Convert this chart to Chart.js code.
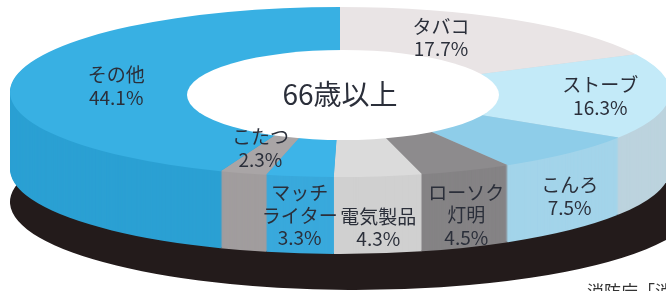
<!DOCTYPE html>
<html lang="ja">
<head>
<meta charset="utf-8">
<script src="https://cdn.jsdelivr.net/npm/chart.js@4.4.1/dist/chart.umd.min.js"></script>
<style>
html, body { margin: 0; padding: 0; background: #fff; overflow: hidden; }
canvas { display: block; }
</style>
</head>
<body>
<canvas id="fireChart" width="666" height="291"></canvas>
<script>
// 住宅火災の出火原因（66歳以上）
var causes = ['タバコ', 'ストーブ', 'こんろ', 'ローソク\n灯明', '電気製品', 'マッチ\nライター', 'こたつ', 'その他']
var shares = [17.7, 16.3, 7.5, 4.5, 4.3, 3.3, 2.3, 44.1]
var centerLabel = '66歳以上'
var sourceNote = '消防庁「消防白書」'

var topColors  = ['#e9e4e5', '#c3eaf8', '#8ecde9', '#8d8b8d', '#dbdbdb', '#3db4e8', '#a9a5a6', '#38b0e3']
var sideColors = ['#d8d2d3', '#bcd3de', '#a3d4ea', '#858385', '#d0d0d0', '#39a9dc', '#a19d9e', '#2ba0d3']
var baseColor = '#231b1b'
var textColor = '#2b2f3a'

// where each label sits: on the top face (fraction of radius) or on the side wall
var labelPlace = [
	{ face: 'top', fx: 0.58, fy: 0.75 },
	{ face: 'top', fx: 0.79, fy: 0.90 },
	{ face: 'side', t: 0.56 },
	{ face: 'side', t: 0.58 },
	{ face: 'side', t: 0.67 },
	{ face: 'side', t: 0.51 },
	{ face: 'top', fx: 0.82, fy: 0.69 },
	{ face: 'top', fx: 0.69, fy: 0.38 }
]

// projected ellipse of the pie top, wall height, dark base under it
var PIE = { x: 340, y: 92, rx: 330, ry: 85, depth: 77 }
var BASE = { x: 355, y: 202, rx: 345, ry: 88 }

function squash( ctx, arc, g, dy ) {
	ctx.translate(g.x, g.y + dy)
	ctx.scale(g.rx / arc.outerRadius, g.ry / arc.outerRadius)
	ctx.translate(-arc.x, -arc.y)
}

function wedgePath( ctx, a ) {
	ctx.moveTo(a.x, a.y)
	ctx.arc(a.x, a.y, a.outerRadius, a.startAngle, a.endAngle)
	ctx.closePath()
}

var pie3d = {
	id: 'pie3d',
	beforeDatasetDraw: function( chart ) {
		var ctx = chart.ctx
		var arcs = chart.getDatasetMeta(0).data
		// dark base, one fill so no seams
		ctx.save()
		squash(ctx, arcs[0], BASE, 0)
		ctx.beginPath()
		arcs.forEach(function( a ) { wedgePath(ctx, a) })
		ctx.fillStyle = baseColor
		ctx.fill()
		ctx.restore()
		// side wall, stacked from the bottom up
		for( var d = PIE.depth; d > 0; d-- ) {
			arcs.forEach(function( a, i ) {
				ctx.save()
				squash(ctx, a, PIE, d)
				ctx.beginPath()
				wedgePath(ctx, a)
				ctx.fillStyle = sideColors[i]
				ctx.fill()
				ctx.restore()
			})
		}
		ctx.save()
		squash(ctx, arcs[0], PIE, 0)
	},
	afterDatasetDraw: function( chart ) {
		chart.ctx.restore()
	},
	afterDraw: function( chart ) {
		var ctx = chart.ctx
		var arcs = chart.getDatasetMeta(0).data
		ctx.save()
		// centre label plate
		ctx.beginPath()
		ctx.ellipse(PIE.x + 3, PIE.y + 3, 156, 45, 0, 0, Math.PI * 2)
		ctx.fillStyle = '#ffffff'
		ctx.fill()
		ctx.fillStyle = textColor
		ctx.textAlign = 'center'
		ctx.textBaseline = 'middle'
		ctx.font = '28px "Noto Sans CJK JP"'
		ctx.fillText(centerLabel, PIE.x, PIE.y + 2)

		ctx.font = '19px "Noto Sans CJK JP"'
		var lh = 22.5
		arcs.forEach(function( a, i ) {
			var mid = (a.startAngle + a.endAngle) / 2
			var p = labelPlace[i]
			var x, y
			if( p.face == 'top' ) {
				x = PIE.x + PIE.rx * p.fx * Math.cos(mid)
				y = PIE.y + PIE.ry * p.fy * Math.sin(mid)
			} else {
				x = PIE.x + PIE.rx * Math.cos(mid)
				y = PIE.y + PIE.ry * Math.sin(mid) + PIE.depth * p.t
			}
			var lines = causes[i].split('\n').concat([shares[i].toFixed(1) + '%'])
			var y0 = y - (lines.length - 1) * lh / 2
			lines.forEach(function( s, k ) {
				ctx.fillText(s, x, y0 + k * lh)
			})
		})

		ctx.textAlign = 'left'
		ctx.textBaseline = 'top'
		ctx.font = '17px "Noto Sans CJK JP"'
		ctx.fillStyle = '#333333'
		ctx.fillText(sourceNote, 587, 283)
		ctx.restore()
	}
}

var ctx = document.getElementById('fireChart')
var myChart = new Chart(ctx, {
	type: 'pie',
	data: {
		labels: causes,
		datasets: [{
			data: shares,
			backgroundColor: topColors,
			borderWidth: 0,
			hoverOffset: 0,
			clip: false
		}]
	},
	options: {
		responsive: false,
		animation: false,
		events: [],
		rotation: 0,
		layout: { padding: 0 },
		plugins: {
			legend: { display: false },
			tooltip: { enabled: false }
		}
	},
	plugins: [pie3d]
})
</script>
</body>
</html>
